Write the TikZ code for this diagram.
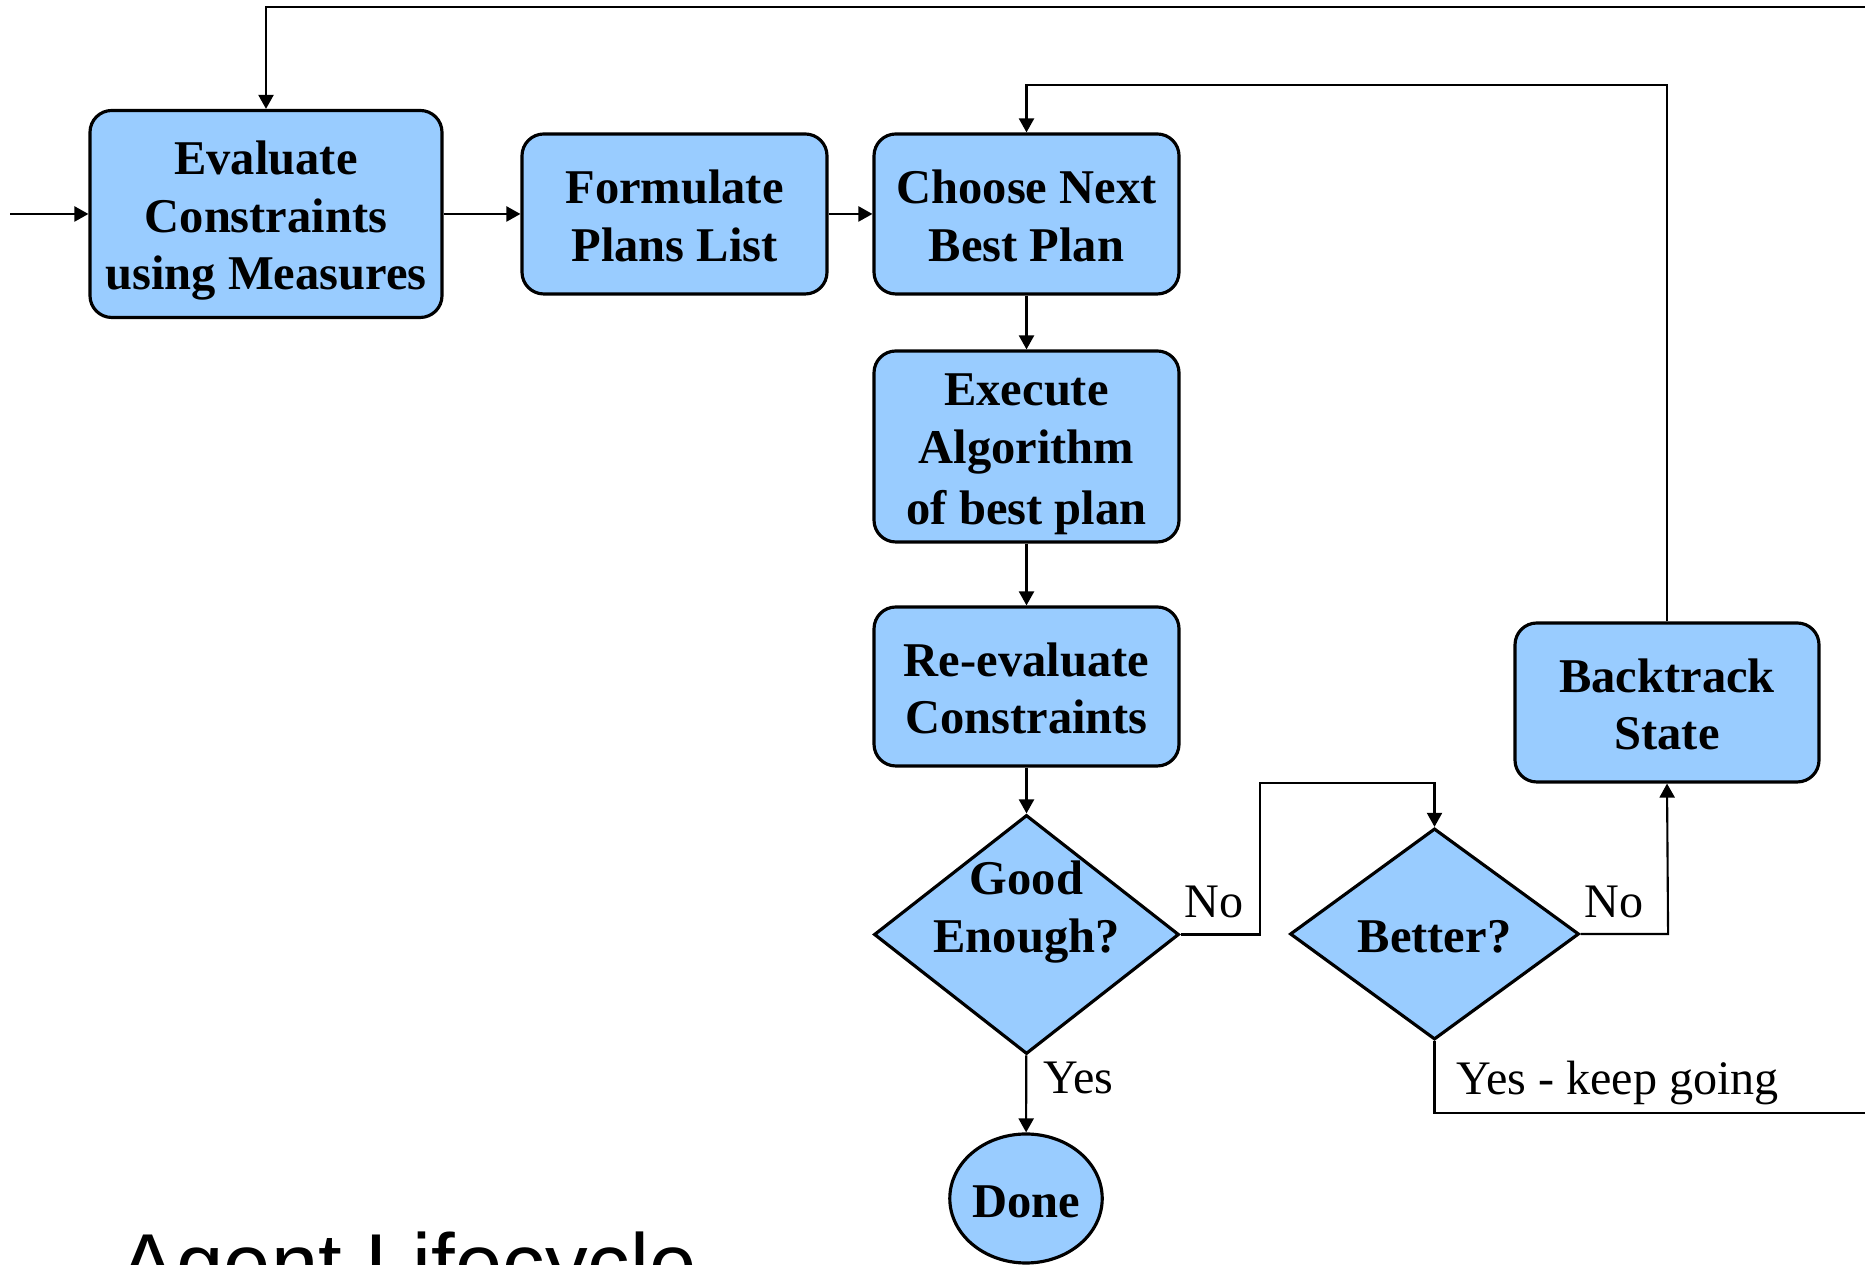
\documentclass[tikz,border=0pt]{standalone}
\usepackage{fontspec}
\setmainfont{Liberation Serif}
\newfontfamily\titlefont{Liberation Sans}
\definecolor{boxblue}{RGB}{153,204,255}
\newcommand{\lnstrut}{\rule[-2.9pt]{0pt}{16.4pt}}
\usepackage{tikz}
\usetikzlibrary{arrows.meta,positioning,shapes.geometric}

\begin{document}
\begin{tikzpicture}[
  procbox/.style={draw=black, fill=boxblue, line width=0.9pt, rounded corners=6.2pt, align=center, inner sep=0pt, minimum width=3.05cm, minimum height=1.60cm, font=\fontsize{13.8}{16.4}\selectfont\bfseries},
  decision/.style={draw=black, fill=boxblue, line width=0.9pt, diamond, inner sep=0pt, align=center, font=\fontsize{13.8}{16.4}\selectfont\bfseries},
  flow/.style={-{Triangle[length=4pt,width=4.3pt]}, line width=0.6pt},
  lbl/.style={inner sep=0pt, font=\fontsize{13.7}{16}\selectfont}
]
  \useasboundingbox (0,0) rectangle (18.65,12.65);
  \clip (0,0) rectangle (18.65,12.65);

  %% Top row
  \node[procbox, minimum width=3.52cm, minimum height=2.07cm] (eval)   at (2.66,10.51)  {\lnstrut Evaluate\\\lnstrut Constraints\\\lnstrut using Measures};
  \node[procbox]                                             (plans)  at (6.745,10.51) {\lnstrut Formulate\\\lnstrut Plans List};
  \node[procbox]                                             (choose) at (10.265,10.51) {\lnstrut Choose Next\\\lnstrut Best Plan};

  %% Main column
  \node[procbox, minimum height=1.91cm] (exec)   at (10.265,8.185) {\lnstrut Execute\\\lnstrut Algorithm\\\lnstrut of best plan};
  \node[procbox, minimum height=1.59cm] (reeval) at (10.265,5.785) {\lnstrut Re-evaluate\\\lnstrut Constraints};
  \node[decision, minimum width=3.05cm, minimum height=2.39cm] (good) at (10.265,3.305) {};
  \node[align=center, inner sep=0pt, font=\fontsize{13.8}{16.4}\selectfont\bfseries] (goodtxt) at (10.265,3.60) {\lnstrut Good\\\lnstrut Enough?};
  \node[draw=black, fill=boxblue, line width=0.9pt, ellipse, minimum width=1.45cm, minimum height=1.29cm, inner sep=0pt, font=\fontsize{13.8}{16.4}\selectfont\bfseries] (done) at (10.26,0.665) {\lnstrut Done};

  %% Right side
  \node[decision, minimum width=2.89cm, minimum height=2.08cm] (better) at (14.345,3.31) {\lnstrut Better?};
  \node[procbox, minimum width=3.04cm, minimum height=1.59cm] (back) at (16.67,5.625) {\lnstrut Backtrack\\\lnstrut State};

  %% Loose ends
  \coordinate (start)    at (0.10,10.51);
  \coordinate (topright) at (18.75,12.577);
  \coordinate (botright) at (18.75,1.52);

  %% Arrows
  \draw[flow] (start) -- (eval.west);
  \draw[flow] (eval) -- (plans);
  \draw[flow] (plans) -- (choose);
  \draw[flow] (choose) -- (exec);
  \draw[flow] (exec) -- (reeval);
  \draw[flow] (reeval) -- (good);
  \draw[flow] (good) -- node[lbl, anchor=base west, xshift=0.16cm] {Yes} (done);
  \draw[flow] (good.east) -- node[lbl, pos=0, anchor=base west, shift={(0.03,0.165)}] {No} ++(0.79,0) -- ++(0,1.515) -| (better.north);
  \draw[flow] (better.east) -- node[lbl, pos=0, anchor=base west, shift={(0.03,0.165)}] {No} ++(0.875,0) -- (back.south);
  \draw[line width=0.6pt] (better.south) |- node[lbl, pos=0.5, anchor=base west, shift={(0.205,0.18)}] {Yes - keep going} (botright);
  \draw[flow] (back.north) -- ++(0,5.36) -| (choose.north);
  \draw[flow] (topright) -| (eval.north);

  %% Slide title
  \node[anchor=base west, inner sep=0pt, font=\titlefont\fontsize{24.2}{28}\selectfont] (title) at (1.19,-0.29) {Agent Lifecycle};
\end{tikzpicture}
\end{document}
